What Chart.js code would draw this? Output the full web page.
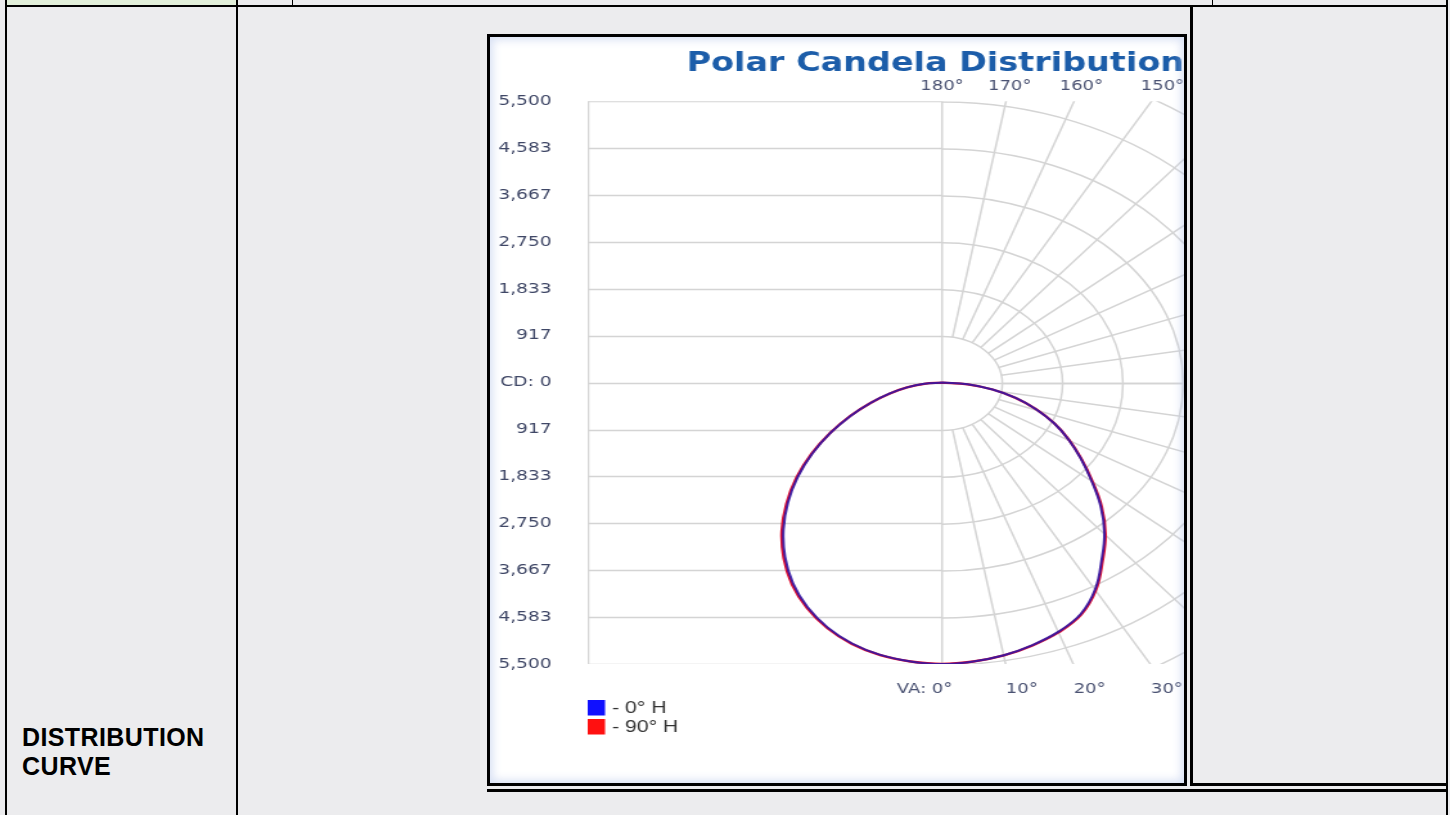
<!DOCTYPE html>
<html><head><meta charset="utf-8">
<script src="https://cdn.jsdelivr.net/npm/chart.js@4.4.0/dist/chart.umd.min.js"></script>
<style>
html,body{margin:0;padding:0;}
body{width:1450px;height:815px;background:#ececee;position:relative;overflow:hidden;font-family:"Liberation Sans",Arial,sans-serif;}
.b{position:absolute;background:#000;}
#green{position:absolute;left:7px;top:0;width:229px;height:5px;background:#e2efda;}
#frame{position:absolute;left:487px;top:34px;width:694px;height:746px;border:3px solid #000;background:#fff;overflow:hidden;}
#c{position:absolute;left:0;top:0;transform:scaleX(1.2852);transform-origin:0 0;}
#glow{position:absolute;left:0;top:0;width:694px;height:746px;box-shadow:inset 0 0 9px 3px rgba(185,200,235,0.55);pointer-events:none;}
#lbl{position:absolute;left:22px;top:723px;font-weight:bold;font-size:25px;line-height:29px;letter-spacing:0.4px;color:#000;}
</style></head>
<body>
<div id="green"></div>
<div class="b" style="left:5px;top:0;width:2px;height:815px"></div>
<div class="b" style="left:1446px;top:0;width:2px;height:815px"></div>
<div class="b" style="left:5px;top:5px;width:1443px;height:2px"></div>
<div class="b" style="left:236px;top:0;width:2px;height:815px"></div>
<div class="b" style="left:292px;top:0;width:1px;height:6px"></div>
<div class="b" style="left:1212px;top:0;width:1px;height:6px"></div>
<div class="b" style="left:1190px;top:5px;width:3px;height:781px"></div>
<div class="b" style="left:1190px;top:783px;width:258px;height:3px"></div>
<div class="b" style="left:487px;top:789px;width:961px;height:3px"></div>
<div id="lbl">DISTRIBUTION<br>CURVE</div>
<div id="frame"><canvas id="c" width="540" height="746"></canvas><div id="glow"></div></div>
<script>
// ---- data ----
const vAngles     = [0,5,10,15,20,25,30,35,40,45,50,55,60,65,70,75,80,85,90];
const cd0H_C0     = [5500,5470,5410,5310,5180,4990,4660,4230,3840,3410,2960,2570,2220,1880,1520,1160,780,390,0];
const cd0H_C180   = [5500,5470,5405,5280,5090,4840,4530,4160,3750,3310,2860,2400,1950,1530,1150,820,540,270,0];
const cd90H_C90   = [5500,5472,5415,5318,5192,5005,4680,4255,3865,3432,2978,2582,2226,1882,1520,1160,780,390,0];
const cd90H_C270  = [5500,5472,5410,5290,5105,4860,4560,4195,3790,3345,2890,2420,1960,1535,1150,820,540,270,0];
const seriesNames = ['- 0° H','- 90° H'];
const yTickValues = [5500,4583.33,3666.67,2750,1833.33,916.67,0,-916.67,-1833.33,-2750,-3666.67,-4583.33,-5500];
const yTickLabels = ['5,500','4,583','3,667','2,750','1,833','917','CD: 0','917','1,833','2,750','3,667','4,583','5,500'];
const topAngles   = [180,170,160,150];
const topLabels   = ['180°','170°','160°','150°'];
const botAngles   = [0,10,20,30];
const botLabels   = ['VA: 0°','10°','20°','30°'];
const titleText   = 'Polar Candela Distribution';

function toXY(right, left){
  const pts=[];
  for(let i=vAngles.length-1;i>=0;i--){const t=vAngles[i]*Math.PI/180;pts.push({x:right[i]*Math.sin(t),y:-right[i]*Math.cos(t)});}
  for(let i=1;i<vAngles.length;i++){const t=vAngles[i]*Math.PI/180;pts.push({x:-left[i]*Math.sin(t),y:-left[i]*Math.cos(t)});}
  return pts;
}

const polarGrid={
  id:'polarGrid',
  beforeDatasetsDraw(chart){
    const {ctx,chartArea:a,scales:{x,y}}=chart;
    const cx=x.getPixelForValue(0), cy=Math.round(y.getPixelForValue(0))+0.5;
    const ky=(y.getPixelForValue(0)-y.getPixelForValue(1000))/1000;
    const kx=(x.getPixelForValue(1000)-x.getPixelForValue(0))/1000;
    const step=yTickValues[0]-yTickValues[1];
    ctx.save();
    ctx.beginPath();ctx.rect(a.left,a.top,a.right-a.left,a.bottom-a.top);ctx.clip();
    ctx.strokeStyle='#d4d4d4';ctx.lineWidth=1.5;
    const seg=(x1,y1,x2,y2)=>{ctx.beginPath();ctx.moveTo(x1,y1);ctx.lineTo(x2,y2);ctx.stroke();};
    yTickValues.forEach(v=>{const p=Math.round(y.getPixelForValue(v))+0.5;seg(a.left,p,cx,p);});
    seg(a.left+0.5,a.top,a.left+0.5,a.bottom);
    seg(cx,a.top,cx,a.bottom);
    seg(cx,cy,a.right,cy);
    for(let i=1;i<=9;i++){ctx.beginPath();ctx.ellipse(cx,cy,i*step*kx,i*step*ky,0,-Math.PI/2,Math.PI/2);ctx.stroke();}
    for(let d=10;d<180;d+=10){const t=d*Math.PI/180,r0=step,r1=20000;
      seg(cx+r0*kx*Math.sin(t),cy+r0*ky*Math.cos(t),cx+r1*kx*Math.sin(t),cy+r1*ky*Math.cos(t));}
    ctx.restore();
  },
  afterDraw(chart){
    const {ctx,chartArea:a,scales:{x,y}}=chart;
    const cx=x.getPixelForValue(0), cy=y.getPixelForValue(0);
    const kx=(x.getPixelForValue(1000)-x.getPixelForValue(0))/1000;
    const ky=(y.getPixelForValue(0)-y.getPixelForValue(1000))/1000;
    ctx.save();
    ctx.font='14px "DejaVu Sans"';ctx.fillStyle='#4a5272';ctx.textBaseline='middle';
    ctx.textAlign='center';
    topAngles.forEach((d,i)=>{const t=(180-d)*Math.PI/180;
      ctx.fillText(topLabels[i],cx+(cy-a.top)/ky*kx*Math.tan(t)+i*3,a.top-15);});
    botAngles.forEach((d,i)=>{const t=d*Math.PI/180;
      if(i===0){ctx.textAlign='right';ctx.fillText(botLabels[i],cx+8,a.bottom+25);}
      else{ctx.textAlign='left';ctx.fillText(botLabels[i],cx+(a.bottom-cy)/ky*kx*Math.tan(t),a.bottom+25);}});
    // legend
    const order=[1,0];
    ctx.font='16.5px "Liberation Sans"';ctx.textAlign='left';
    order.forEach((di,i)=>{
      const ds=chart.data.datasets[di];
      const top=a.bottom+36+i*19;
      ctx.fillStyle=ds.legendColor;ctx.fillRect(a.left,top,13.5,15.5);
      ctx.fillStyle='#333';ctx.fillText(ds.label,a.left+19,top+8.5);
    });
    ctx.restore();
  }
};

Chart.defaults.font.family='"DejaVu Sans"';
new Chart(document.getElementById('c'),{
  type:'scatter',
  data:{datasets:[
    {label:seriesNames[1],legendColor:'#ff1010',data:toXY(cd90H_C90,cd90H_C270),showLine:true,borderColor:'#e01030',borderWidth:2.3,pointRadius:0,tension:0.4,order:2},
    {label:seriesNames[0],legendColor:'#1010ff',data:toXY(cd0H_C0,cd0H_C180),showLine:true,borderColor:'rgba(45,22,165,0.88)',borderWidth:2,pointRadius:0,tension:0.4,order:1}
  ]},
  plugins:[polarGrid],
  options:{
    responsive:false,animation:false,devicePixelRatio:1,
    layout:{padding:{left:0,right:0,top:0,bottom:119}},
    plugins:{
      legend:{display:false},tooltip:{enabled:false},
      title:{display:true,text:titleText,align:'end',color:'#1c5da9',font:{family:'"DejaVu Sans"',size:26,weight:'bold'},padding:{top:12,bottom:21}}
    },
    scales:{
      x:{type:'linear',min:-5387,max:3679,display:false},
      y:{type:'linear',min:-5500,max:5500,
        afterBuildTicks:(ax)=>{ax.ticks=yTickValues.map(v=>({value:v}));},
        afterFit:(ax)=>{ax.width=76;},
        ticks:{callback:(v,i)=>yTickLabels[i],color:'#3f4766',font:{size:14.5},padding:28,autoSkip:false},
        grid:{display:false,drawTicks:false},border:{display:false}}
    }
  }
});
</script>
</body></html>
